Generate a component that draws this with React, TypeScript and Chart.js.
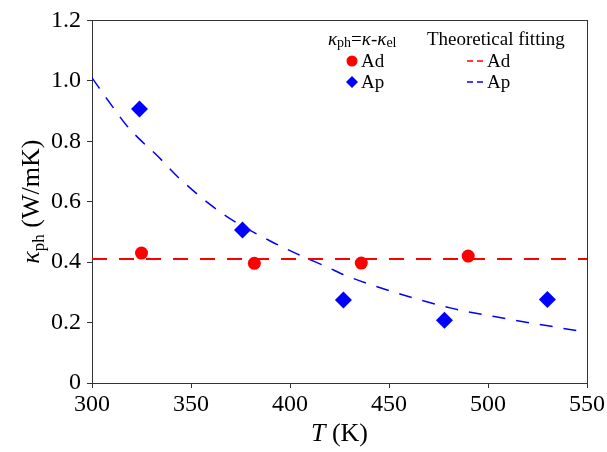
import React, { useEffect, useRef } from 'react';
import { Chart, registerables } from 'chart.js';

Chart.register(...registerables);

const adT = [325, 382, 436, 490];
const adK = [0.43, 0.396, 0.397, 0.42];
const apT = [324, 376, 427, 478, 530];
const apK = [0.907, 0.506, 0.275, 0.208, 0.276];

// Theoretical fitting curves
const fitAdT = [300, 550];
const fitAdK = [0.41, 0.41];
const fitApT = [300, 310, 318, 324, 333, 344, 366, 390, 405, 419, 428, 455, 482, 509, 536, 550];
const fitApK = [1.01, 0.918, 0.848, 0.807, 0.752, 0.678, 0.56, 0.47, 0.423, 0.383, 0.356, 0.296, 0.247, 0.213, 0.183, 0.168];

// Axis ticks
const xTicks = [300, 350, 400, 450, 500, 550];
const yTicks = [0, 0.2, 0.4, 0.6, 0.8, 1.0, 1.2];

const SERIF = '"Liberation Serif", "Times New Roman", serif';
const AXIS_COLOR = '#333333';

const toPts = (xs: number[], ys: number[]) => xs.map((x, i) => ({ x, y: ys[i] }));

const decorPlugin = {
  id: 'decor',
  afterDraw(chart: any) {
    const { ctx, chartArea } = chart;
    const { left, right, top, bottom } = chartArea;
    ctx.save();
    // top and right frame lines
    ctx.strokeStyle = AXIS_COLOR;
    ctx.lineWidth = 1;
    ctx.setLineDash([]);
    ctx.beginPath();
    ctx.moveTo(Math.round(left), Math.round(top) + 0.5);
    ctx.lineTo(Math.round(right) + 1, Math.round(top) + 0.5);
    ctx.moveTo(Math.round(right) + 0.5, Math.round(top));
    ctx.lineTo(Math.round(right) + 0.5, Math.round(bottom));
    ctx.stroke();

    ctx.fillStyle = '#000';
    ctx.textBaseline = 'alphabetic';

    // X axis title: T (K)
    {
      const big = `26px ${SERIF}`;
      const it = `italic 26px ${SERIF}`;
      ctx.font = it;
      const w1 = ctx.measureText('T').width;
      ctx.font = big;
      const w2 = ctx.measureText(' (K)').width;
      const cx = (left + right) / 2;
      const x0 = cx - (w1 + w2) / 2;
      const by = 441;
      ctx.font = it;
      ctx.fillText('T', x0, by);
      ctx.font = big;
      ctx.fillText(' (K)', x0 + w1, by);
    }

    // Y axis title: κph (W/mK)
    {
      const it = `italic 26px ${SERIF}`;
      const sub = `17px ${SERIF}`;
      const big = `26px ${SERIF}`;
      ctx.font = it;
      const w1 = ctx.measureText('κ').width;
      ctx.font = sub;
      const w2 = ctx.measureText('ph').width;
      ctx.font = big;
      const w3 = ctx.measureText(' (W/mK)').width;
      const total = w1 + w2 + w3;
      ctx.translate(39, (top + bottom) / 2);
      ctx.rotate(-Math.PI / 2);
      let x = -total / 2;
      ctx.font = it;
      ctx.fillText('κ', x, 0);
      x += w1;
      ctx.font = sub;
      ctx.fillText('ph', x, 5);
      x += w2;
      ctx.font = big;
      ctx.fillText(' (W/mK)', x, 0);
      ctx.setTransform(1, 0, 0, 1, 0, 0);
    }

    // Legend
    {
      const hy = 45;
      // header 1: κph=κ-κel
      const parts: [string, string, number][] = [
        ['κ', `italic 19px ${SERIF}`, 0],
        ['ph', `14px ${SERIF}`, 2],
        ['=', `19px ${SERIF}`, 0],
        ['κ', `italic 19px ${SERIF}`, 0],
        ['-', `19px ${SERIF}`, 0],
        ['κ', `italic 19px ${SERIF}`, 0],
        ['el', `14px ${SERIF}`, 2],
      ];
      let x = 328;
      for (const [t, f, dy] of parts) {
        ctx.font = f;
        ctx.fillText(t, x, hy + dy);
        x += ctx.measureText(t).width;
      }
      ctx.font = `19px ${SERIF}`;
      ctx.fillText('Theoretical fitting', 427, hy);

      const r1 = 61;
      const r2 = 82;
      // red circle
      ctx.fillStyle = '#ff0000';
      ctx.beginPath();
      ctx.arc(352, r1, 5.5, 0, Math.PI * 2);
      ctx.fill();
      // blue diamond
      ctx.fillStyle = '#0000ff';
      ctx.beginPath();
      const d = 6;
      ctx.moveTo(352, r2 - d);
      ctx.lineTo(352 + d, r2);
      ctx.lineTo(352, r2 + d);
      ctx.lineTo(352 - d, r2);
      ctx.closePath();
      ctx.fill();

      ctx.fillStyle = '#000';
      ctx.textBaseline = 'middle';
      ctx.font = `19px ${SERIF}`;
      ctx.fillText('Ad', 361, r1 + 1);
      ctx.fillText('Ap', 361, r2 + 1);
      ctx.fillText('Ad', 487, r1 + 1);
      ctx.fillText('Ap', 487, r2 + 1);

      ctx.lineWidth = 1.5;
      ctx.setLineDash([6, 4]);
      ctx.strokeStyle = '#ff0000';
      ctx.beginPath();
      ctx.moveTo(467, r1);
      ctx.lineTo(483, r1);
      ctx.stroke();
      ctx.strokeStyle = '#0000ff';
      ctx.beginPath();
      ctx.moveTo(467, r2);
      ctx.lineTo(483, r2);
      ctx.stroke();
    }
    ctx.restore();
  },
};

export default function App() {
  const ref = useRef<HTMLCanvasElement>(null);

  useEffect(() => {
    if (!ref.current) return;
    const chart = new Chart(ref.current, {
      type: 'scatter',
      data: {
        datasets: [
          {
            label: 'Fit Ad',
            data: toPts(fitAdT, fitAdK),
            showLine: true,
            borderColor: '#ff0000',
            borderWidth: 2,
            borderDash: [15, 12],
            pointRadius: 0,
            order: 2,
          },
          {
            label: 'Fit Ap',
            data: toPts(fitApT, fitApK),
            showLine: true,
            borderColor: '#0000ff',
            borderWidth: 1.5,
            borderDash: [13, 11],
            pointRadius: 0,
            cubicInterpolationMode: 'monotone',
            order: 2,
          },
          {
            label: 'Ad',
            data: toPts(adT, adK),
            pointStyle: 'circle',
            pointRadius: 6.5,
            backgroundColor: '#ff0000',
            borderColor: '#ff0000',
            borderWidth: 0,
            order: 1,
          },
          {
            label: 'Ap',
            data: toPts(apT, apK),
            pointStyle: 'rectRot',
            pointRadius: 8.5,
            backgroundColor: '#0000ff',
            borderColor: '#0000ff',
            borderWidth: 0,
            order: 1,
          },
        ],
      },
      options: {
        responsive: false,
        animation: false,
        layout: { padding: { left: 0, top: 13, right: 19, bottom: 0 } },
        plugins: {
          legend: { display: false },
          tooltip: { enabled: false },
          title: { display: false },
        },
        scales: {
          x: {
            type: 'linear',
            min: 300,
            max: 550,
            afterBuildTicks: (s: any) => {
              s.ticks = xTicks.map((v) => ({ value: v }));
            },
            afterFit: (s: any) => {
              s.height = 69;
            },
            ticks: {
              font: { family: SERIF, size: 24 },
              color: '#000',
              padding: 2,
              maxRotation: 0,
              autoSkip: false,
              callback: (v: any) => String(v),
            },
            grid: {
              drawOnChartArea: false,
              drawTicks: true,
              tickLength: 5,
              color: AXIS_COLOR,
            },
            border: { color: AXIS_COLOR, width: 1 },
            title: { display: false },
          },
          y: {
            type: 'linear',
            min: 0,
            max: 1.2,
            afterBuildTicks: (s: any) => {
              s.ticks = yTicks.map((v) => ({ value: v }));
            },
            afterFit: (s: any) => {
              s.width = 92;
            },
            ticks: {
              font: { family: SERIF, size: 24 },
              color: '#000',
              padding: 6,
              autoSkip: false,
              callback: (v: any) => (Number(v) === 0 ? '0' : Number(v).toFixed(1)),
            },
            grid: {
              drawOnChartArea: false,
              drawTicks: true,
              tickLength: 5,
              color: AXIS_COLOR,
            },
            border: { color: AXIS_COLOR, width: 1 },
            title: { display: false },
          },
        },
      },
      plugins: [decorPlugin],
    } as any);
    return () => chart.destroy();
  }, []);

  return (
    <div style={{ position: 'absolute', left: 0, top: 0, width: 607, height: 452, background: '#fff' }}>
      <canvas ref={ref} width={607} height={452} style={{ display: 'block' }} />
    </div>
  );
}
